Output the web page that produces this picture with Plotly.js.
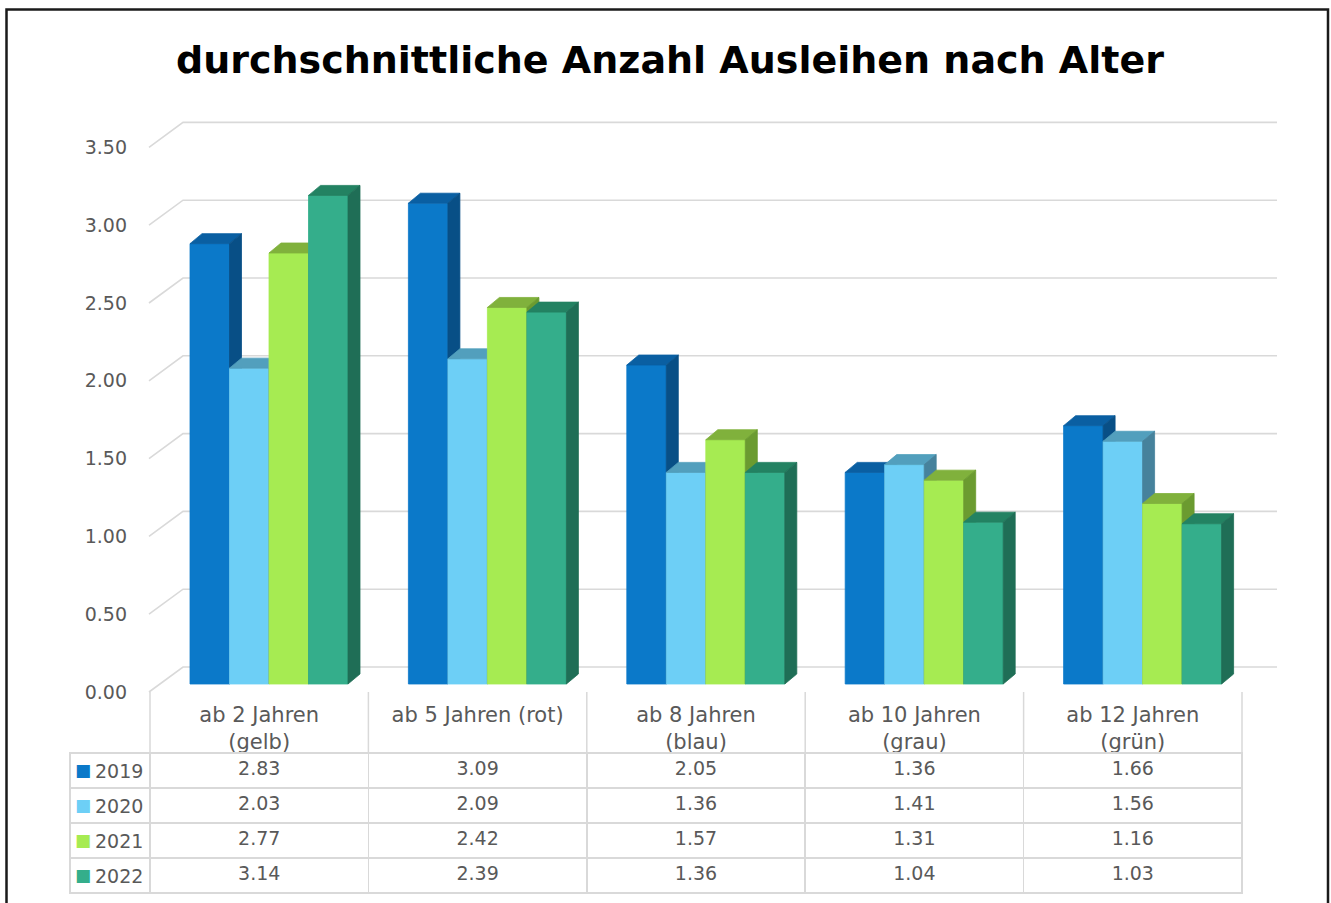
<!DOCTYPE html>
<html>
<head>
<meta charset="utf-8">
<script src="https://cdn.plot.ly/plotly-3.0.1.min.js"></script>
<style>html,body{margin:0;padding:0;background:#fff;}#chart{width:1331px;height:903px;}</style>
</head>
<body>
<div id="chart"></div>
<script>
// ---------- data ----------
const categories = ['ab 2 Jahren<br>(gelb)', 'ab 5 Jahren (rot)', 'ab 8 Jahren<br>(blau)', 'ab 10 Jahren<br>(grau)', 'ab 12 Jahren<br>(grün)'];
const years = ['2019', '2020', '2021', '2022'];
const v2019 = [2.83, 3.09, 2.05, 1.36, 1.66];
const v2020 = [2.03, 2.09, 1.36, 1.41, 1.56];
const v2021 = [2.77, 2.42, 1.57, 1.31, 1.16];
const v2022 = [3.14, 2.39, 1.36, 1.04, 1.03];
const yTickVals = [0, 0.5, 1, 1.5, 2, 2.5, 3, 3.5];
const yTickText = ['0.00', '0.50', '1.00', '1.50', '2.00', '2.50', '3.00', '3.50'];

const series = [v2019, v2020, v2021, v2022];
// front, top, side colours per series
const colFront = ['#0b79c9', '#6dcff6', '#a6eb52', '#34ae8b'];
const colTop   = ['#0a5fa2', '#529fbd', '#80b13c', '#238262'];
const colSide  = ['#084f86', '#46829c', '#6b9b30', '#1f6e56'];

const FONT = 'DejaVu Sans';
const GRAY = '#595959';
const LINE = '#d9d9d9';

// ---------- geometry (pixels -> data units) ----------
const W = 1331, H = 903;
const mL = 60, mR = 40, mT = 100, mB = 5;
const paperW = W - mL - mR, paperH = H - mT - mB;
const plotL = 140, plotR = W - mR, plotT = 110, plotB = 700;
const catPx = 218.4;          // px per category
const cat0Px = 259.2;         // px of first category centre
const yPx = 155.6;            // px per unit
const y0Px = 684;             // px of value 0 on bar front face
const xRange = [(plotL - cat0Px) / catPx, (plotR - cat0Px) / catPx];
const yRange = [(y0Px - plotB) / yPx, (y0Px - plotT) / yPx];
const px2px = p => (p - mL) / paperW;
const py2py = p => (H - mB - p) / paperH;

const barOff = -69.2 / catPx, barW = 39.5 / catPx;
const dX = 12 / catPx, dY = 10 / yPx;

const traces = [];
// back-wall gridlines and side diagonals
const gx = [], gy = [];
yTickVals.forEach(v => {
  const frontX = (149 - cat0Px) / catPx, backX = (183 - cat0Px) / catPx, endX = (1277 - cat0Px) / catPx;
  const fy = v - 8 / yPx, by = v + 17 / yPx;
  gx.push(frontX, backX, endX, null);
  gy.push(fy, by, by, null);
});
traces.push({type: 'scatter', mode: 'lines', x: gx, y: gy, line: {color: LINE, width: 1.6}, hoverinfo: 'skip'});

// 3D-look bars: front, top, side faces
series.forEach((vals, s) => {
  const fx = [], fy = [], tx = [], ty = [], sx = [], sy = [];
  vals.forEach((v, i) => {
    const l = i + barOff + s * barW, r = l + barW;
    fx.push(l, r, r, l, l, null); fy.push(0, 0, v, v, 0, null);
    tx.push(l, r, r + dX, l + dX, l, null); ty.push(v, v, v + dY, v + dY, v, null);
    sx.push(r, r + dX, r + dX, r, r, null); sy.push(0, dY, v + dY, v, 0, null);
  });
  [[fx, fy, colFront[s]], [tx, ty, colTop[s]], [sx, sy, colSide[s]]].forEach(([x, y, c]) => {
    traces.push({type: 'scatter', mode: 'lines', x: x, y: y, fill: 'toself', fillcolor: c,
      line: {color: c, width: 0.8}, hoverinfo: 'skip', name: years[s]});
  });
});

// data table (header row drawn transparent; category labels are the x-axis labels)
const tblL = 70, tblR = 1242, tblT = 692, headH = 61, rowH = 35, legW = 80;
const tblB = tblT + headH + rowH * years.length + 3;
const cellCols = [years.map(() => '')].concat(categories.map((c, i) => series.map(vals => vals[i].toFixed(2))));
traces.push({
  type: 'table',
  domain: {x: [px2px(tblL), px2px(tblR)], y: [Math.max(0, py2py(tblB)), py2py(tblT)]},
  columnwidth: [legW].concat(categories.map(() => catPx)),
  header: {
    values: [''].concat(categories.map(() => '')),
    height: headH,
    fill: {color: 'rgba(0,0,0,0)'},
    line: {color: 'rgba(0,0,0,0)', width: 0}
  },
  cells: {
    values: cellCols,
    align: ['left'].concat(categories.map(() => 'center')),
    height: rowH,
    fill: {color: 'white'},
    line: {color: LINE, width: 1.5},
    font: {family: FONT, size: 19, color: GRAY}
  }
});

// header vertical separators
const shapes = [];
for (let k = 0; k <= categories.length; k++) {
  const xpx = tblL + legW + k * catPx;
  shapes.push({type: 'line', xref: 'paper', yref: 'paper', x0: px2px(xpx), x1: px2px(xpx),
    y0: py2py(tblT), y1: py2py(tblT + headH), line: {color: LINE, width: 1.5}});
}
// outer frame
shapes.push({type: 'rect', xref: 'paper', yref: 'paper',
  x0: px2px(6.5), x1: px2px(1328), y0: py2py(906), y1: py2py(9.5),
  line: {color: '#1a1a1a', width: 2.5}});

// legend keys in the first table column
const annotations = [];
years.forEach((y, s) => {
  const yc = py2py(tblT + headH + rowH * (s + 0.5));
  annotations.push({xref: 'paper', yref: 'paper', x: px2px(82.5), y: yc + 1 / paperH,
    xanchor: 'center', yanchor: 'middle', showarrow: false,
    text: '■', font: {family: FONT, size: 17, color: colFront[s]}});
  annotations.push({xref: 'paper', yref: 'paper', x: px2px(93), y: yc,
    xanchor: 'left', yanchor: 'middle', showarrow: false,
    text: y, font: {family: FONT, size: 19, color: GRAY}});
});

const layout = {
  width: W, height: H,
  margin: {l: mL, r: mR, t: mT, b: mB},
  paper_bgcolor: 'white', plot_bgcolor: 'rgba(0,0,0,0)',
  showlegend: false,
  title: {text: '<b>durchschnittliche Anzahl Ausleihen nach Alter</b>',
    font: {family: FONT, size: 38, color: '#000'},
    x: 670 / W, xref: 'container', xanchor: 'center', y: 1 - 60 / H, yref: 'container', yanchor: 'middle'},
  xaxis: {domain: [px2px(plotL), 1], range: xRange, showgrid: false, zeroline: false,
    tickmode: 'array', tickvals: categories.map((c, i) => i), ticktext: categories,
    showline: false, ticks: '', ticklabelstandoff: 0,
    tickfont: {family: FONT, size: 21, color: GRAY}, fixedrange: true},
  yaxis: {domain: [py2py(plotB), py2py(plotT)], range: yRange, showgrid: false, zeroline: false,
    tickmode: 'array', tickvals: yTickVals, ticktext: yTickText, ticks: '', showline: false,
    ticklabelshift: 8, ticklabelstandoff: 12,
    tickfont: {family: FONT, size: 19, color: GRAY}, fixedrange: true},
  shapes: shapes,
  annotations: annotations
};

Plotly.newPlot('chart', traces, layout, {displayModeBar: false, staticPlot: true});
</script>
</body>
</html>
